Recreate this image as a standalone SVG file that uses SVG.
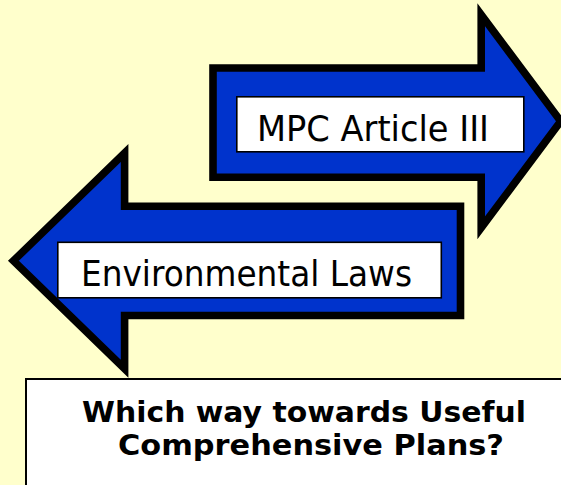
<svg xmlns="http://www.w3.org/2000/svg" width="561" height="485" viewBox="0 0 561 485">
  <style>
    .arrow { fill: #0033CC; stroke: #000000; stroke-width: 7.6; stroke-linejoin: miter; stroke-miterlimit: 20; }
    .label { fill: #FFFFFF; stroke: #000000; stroke-width: 1.6; }
    .ltext { font-family: "DejaVu Sans", "Liberation Sans", sans-serif; font-size: 36px; fill: #000000; }
    .qbox { fill: #FFFFFF; stroke: #000000; stroke-width: 2; }
    .qtext { font-family: "DejaVu Sans", "Liberation Sans", sans-serif; font-size: 29px; font-weight: bold; fill: #000000; text-anchor: middle; }
  </style>
  <rect x="0" y="0" width="561" height="485" fill="#FFFFCC"/>
  <g id="connectors">
    <g id="arrow-right">
      <polygon class="arrow" points="213,68 481.2,68 481.2,14.75 560.7,121.3 481.2,227.85 481.2,177.2 213,177.2"/>
    </g>
    <g id="arrow-left">
      <polygon class="arrow" points="460.5,206.2 124.6,206.2 124.6,153 13.4,260.85 124.6,368.7 124.6,315.5 460.5,315.5"/>
    </g>
  </g>
  <g id="node-mpc">
    <rect class="label" x="236.8" y="96.8" width="287" height="55"/>
    <text class="ltext" x="257" y="141" textLength="232" lengthAdjust="spacingAndGlyphs">MPC Article III</text>
  </g>
  <g id="node-env">
    <rect class="label" x="57.8" y="242.3" width="383.5" height="55.5"/>
    <text class="ltext" x="81" y="285.5" textLength="331" lengthAdjust="spacingAndGlyphs">Environmental Laws</text>
  </g>
  <g id="node-question">
    <rect class="qbox" x="26" y="379" width="545" height="120"/>
    <text class="qtext" x="304" y="421.5" textLength="444" lengthAdjust="spacingAndGlyphs">Which way towards Useful</text>
    <text class="qtext" x="311" y="455" textLength="386" lengthAdjust="spacingAndGlyphs">Comprehensive Plans?</text>
  </g>
</svg>
